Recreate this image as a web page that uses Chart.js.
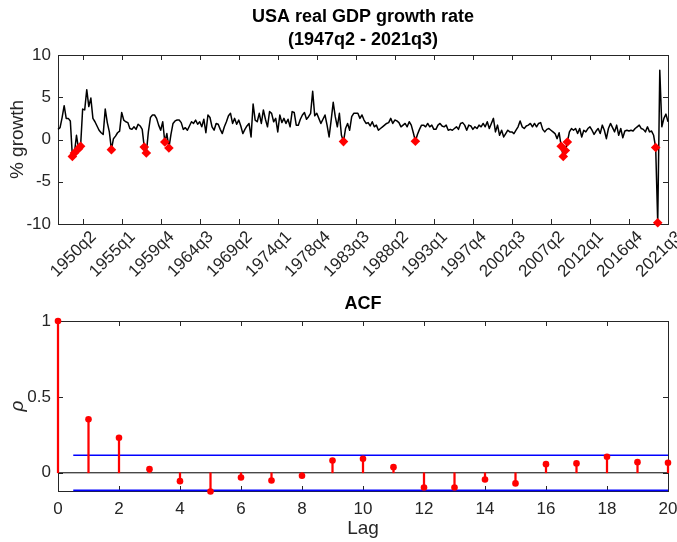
<!DOCTYPE html>
<html>
<head>
<meta charset="utf-8">
<script src="https://cdn.jsdelivr.net/npm/chart.js@4.4.0/dist/chart.umd.min.js"></script>
<style>
  html, body { margin: 0; padding: 0; background: #fff; }
  #wrap { position: relative; width: 677px; height: 542px; }
  canvas { position: absolute; left: 0; }
  #gdp { top: 0; }
  #acf { top: 290px; }
</style>
</head>
<body>
<div id="wrap">
  <canvas id="gdp" width="677" height="290"></canvas>
  <canvas id="acf" width="677" height="252"></canvas>
</div>
<script>
// quarterly growth, 1947q2 .. 2021q3
const growth = [
  1.2, 1.4, 2.6, 4.0, 2.5, 2.5, 2.2, -2.0, -1.6, 0.5,
  -1.1, -0.8, 3.6, 3.5, 5.9, 3.9, 4.9, 2.5, 2.1, 1.6,
  1.1, 0.8, 0.6, 3.6, 2.0, 0.9, -1.2, 0.1, 0.4, 0.8,
  1.0, 3.2, 2.3, 2.1, 2.0, 1.3, 1.2, 1.5, 1.2, 1.8,
  1.6, 1.2, -0.9, -1.6, 0.9, 2.6, 2.9, 2.9, 2.5, 1.7,
  1.1, 2.1, -0.3, 0.7, -1.0, 0.6, 1.9, 2.2, 2.3, 2.3,
  2.0, 1.2, 1.4, 1.1, 1.6, 2.1, 1.9, 2.3, 1.8, 2.1,
  1.5, 2.4, 0.8, 2.9, 2.6, 1.5, 1.1, 1.9, 1.8, 1.2,
  0.7, 1.5, 2.1, 2.8, 3.1, 1.9, 2.5, 1.8, 2.3, 1.6,
  0.7, 1.2, 1.6, 1.9, 0.3, 4.2, 2.3, 2.1, 3.1, 1.9,
  3.5, 2.4, 1.5, 3.3, 3.1, 2.1, 2.5, 0.9, 2.9, 2.0,
  2.5, 1.9, 2.4, 1.5, 3.3, 3.2, 1.7, 1.7, 2.4, 2.9,
  3.2, 2.4, 2.7, 3.1, 5.7, 2.8, 3.1, 2.5, 1.9, 2.4,
  2.9, 1.7, 0.3, 2.3, 4.4, 2.7, 1.5, 3.1, 0.5, -0.25,
  1.3, 1.9, 1.1, 2.7, 3.1, 3.1, 3.1, 2.5, 2.9, 2.3,
  1.9, 2.0, 1.6, 2.1, 1.5, 1.7, 1.1, 1.3, 1.5, 1.7,
  1.9, 2.0, 2.5, 1.9, 2.3, 2.2, 2.0, 1.5, 1.7, 1.9,
  1.5, 2.1, 1.7, 0.8, -0.2, 0.6, 1.2, 1.7, 1.7, 1.5,
  1.9, 1.5, 1.7, 1.2, 1.2, 1.7, 1.9, 1.6, 1.5, 1.7,
  1.1, 1.2, 1.1, 1.3, 1.5, 1.2, 1.9, 2.0, 1.7, 1.1,
  1.7, 1.6, 1.2, 1.5, 1.3, 1.7, 1.5, 1.9, 1.5, 2.1,
  1.3, 1.9, 2.5, 0.9, 1.7, 0.5, 1.1, 0.3, 0.7, 1.1,
  0.9, 0.9, 0.7, 1.1, 1.5, 2.2, 1.5, 1.3, 1.6, 1.7,
  1.9, 1.5, 1.9, 1.5, 1.9, 2.0, 1.2, 0.9, 1.2, 1.3,
  1.1, 0.9, 0.7, 0.1, 0.8, -0.8, -2.0, -1.3, -0.3, 0.9,
  1.3, 1.1, 1.3, 0.7, 1.3, 0.3, 1.1, 0.9, 1.3, 1.5,
  1.1, 0.6, 1.0, 1.3, 0.7, 1.7, 1.1, 0.1, 1.3, 1.9,
  1.4, 0.9, 1.7, 0.5, 1.3, 0.2, 1.0, 1.1, 1.0, 1.1,
  1.0, 1.3, 1.5, 1.7, 1.3, 1.2, 0.9, 1.5, 0.9, 1.0,
  0.5, -0.95, -9.85, 8.2, 1.5, 2.5, 3.0, 2.1
];
const firstQuarter = '1947q2';
const quarterTickLabels = ['1950q2', '1955q1', '1959q4', '1964q3', '1969q2', '1974q1', '1978q4', '1983q3',
  '1988q2', '1993q1', '1997q4', '2002q3', '2007q2', '2012q1', '2016q4', '2021q3'];
const growthTicks = [-10, -5, 0, 5, 10];

const lags = [0, 1, 2, 3, 4, 5, 6, 7, 8, 9, 10, 11, 12, 13, 14, 15, 16, 17, 18, 19, 20];
const acf = [1, 0.352, 0.231, 0.024, -0.055, -0.123, -0.031, -0.051, -0.020, 0.081, 0.092,
  0.037, -0.097, -0.097, -0.044, -0.070, 0.057, 0.062, 0.106, 0.070, 0.066];
const confBand = [-0.116, 0.116];
const bandLags = [0.5, 20];
const acfTicks = [0, 0.5, 1];

// quarter label -> running index (1947q1 = 0)
function qIndex(label) {
  const yr = parseInt(label.slice(0, 4), 10);
  const q = parseInt(label.slice(5), 10);
  return (yr - 1947) * 4 + q - 1;
}
const startIdx = qIndex(firstQuarter);
const tickLabelAt = {};
quarterTickLabels.forEach(l => { tickLabelAt[qIndex(l)] = l; });

const fontFamily = '"Liberation Sans", Arial, Helvetica, sans-serif';
const tickFont = { family: fontFamily, size: 17 };
const labelFont = { family: fontFamily, size: 19 };
const axisColor = '#262626';

// keep the plot box where the figure has it
function fixSize(prop, size) {
  return s => {
    s[prop] = size;
    s.paddingLeft = 0; s.paddingRight = 0; s.paddingTop = 0; s.paddingBottom = 0;
  };
}

// matlab-like box with inward ticks, plus centred titles
const boxPlugin = {
  id: 'boxPlugin',
  beforeDatasetsDraw(chart) {
    const { ctx, chartArea: a, scales: { x, y } } = chart;
    const len = 5;
    ctx.save();
    ctx.strokeStyle = axisColor;
    ctx.lineWidth = 1;
    ctx.beginPath();
    x.ticks.forEach(t => {
      const px = Math.round(x.getPixelForValue(t.value)) + 0.5;
      ctx.moveTo(px, a.bottom); ctx.lineTo(px, a.bottom - len);
      ctx.moveTo(px, a.top); ctx.lineTo(px, a.top + len);
    });
    y.ticks.forEach(t => {
      const py = Math.round(y.getPixelForValue(t.value)) + 0.5;
      ctx.moveTo(a.left, py); ctx.lineTo(a.left + len, py);
      ctx.moveTo(a.right, py); ctx.lineTo(a.right - len, py);
    });
    ctx.stroke();
    ctx.strokeRect(Math.round(a.left) + 0.5, Math.round(a.top) + 0.5,
      Math.round(a.right - a.left), Math.round(a.bottom - a.top));
    ctx.restore();
  },
  afterDraw(chart, args, opts) {
    const { ctx, chartArea: a } = chart;
    ctx.save();
    ctx.fillStyle = '#000';
    ctx.font = 'bold 18px ' + fontFamily;
    ctx.textAlign = 'center';
    ctx.textBaseline = 'middle';
    opts.lines.forEach((line, i) => ctx.fillText(line, (a.left + a.right) / 2, opts.ys[i]));
    ctx.restore();
  }
};

const linePts = growth.map((v, i) => ({ x: startIdx + i, y: v }));
const negPts = linePts.filter(p => p.y < 0);

new Chart(document.getElementById('gdp'), {
  type: 'line',
  data: {
    datasets: [
      { data: negPts, showLine: false, pointStyle: 'rectRot', pointRadius: 4.8,
        pointBackgroundColor: '#ff0000', pointBorderWidth: 0, clip: false },
      { data: linePts, borderColor: '#000', borderWidth: 1.5, pointRadius: 0, tension: 0,
        borderJoinStyle: 'round', clip: false }
    ]
  },
  options: {
    responsive: false, animation: false, devicePixelRatio: 1,
    layout: { padding: { top: 55, right: 9, left: 0, bottom: 0 } },
    plugins: {
      legend: { display: false }, tooltip: { enabled: false },
      boxPlugin: { lines: ['USA real GDP growth rate', '(1947q2 - 2021q3)'], ys: [17, 40] }
    },
    scales: {
      x: {
        type: 'linear', min: startIdx, max: startIdx + growth.length - 1,
        grid: { display: false, drawTicks: false }, border: { display: false },
        afterBuildTicks: s => { s.ticks = quarterTickLabels.map(l => ({ value: qIndex(l) })); },
        afterFit: fixSize('height', 66),
        ticks: { autoSkip: false, minRotation: 45, maxRotation: 45, padding: 3, labelOffset: 11,
          color: axisColor, font: tickFont, callback: v => tickLabelAt[v] }
      },
      y: {
        min: -10, max: 10,
        grid: { display: false, drawTicks: false }, border: { display: false },
        afterBuildTicks: s => { s.ticks = growthTicks.map(v => ({ value: v })); },
        afterFit: fixSize('width', 58),
        ticks: { padding: 7, color: axisColor, font: tickFont, callback: v => String(v) },
        title: { display: true, text: '% growth', color: axisColor, font: labelFont, padding: { top: 6 } }
      }
    }
  },
  plugins: [boxPlugin]
});

const acfPts = lags.map((l, i) => ({ x: l, y: acf[i] }));

new Chart(document.getElementById('acf'), {
  type: 'bar',
  data: {
    datasets: [
      { type: 'scatter', data: acfPts, pointRadius: 3.3, backgroundColor: '#ff0000',
        borderWidth: 0, clip: false },
      { type: 'bar', data: acfPts, backgroundColor: '#ff0000', barThickness: 1.6,
        grouped: false, clip: false },
      { type: 'line', data: bandLags.map(l => ({ x: l, y: confBand[1] })), borderColor: '#0000ff',
        borderWidth: 1.6, pointRadius: 0 },
      { type: 'line', data: bandLags.map(l => ({ x: l, y: confBand[0] })), borderColor: '#0000ff',
        borderWidth: 1.6, pointRadius: 0, clip: false },
      { type: 'line', data: [lags[0], lags[lags.length - 1]].map(l => ({ x: l, y: 0 })),
        borderColor: '#000', borderWidth: 1, pointRadius: 0 }
    ]
  },
  options: {
    responsive: false, animation: false, devicePixelRatio: 1,
    layout: { padding: { top: 31, right: 9, left: 0, bottom: 0 } },
    plugins: {
      legend: { display: false }, tooltip: { enabled: false },
      boxPlugin: { lines: ['ACF'], ys: [14] }
    },
    scales: {
      x: {
        type: 'linear', min: lags[0], max: lags[lags.length - 1], offset: false,
        grid: { display: false, drawTicks: false, offset: false }, border: { display: false },
        ticks: { stepSize: 2, padding: 8, color: axisColor, font: tickFont },
        afterFit: fixSize('height', 51),
        title: { display: true, text: 'Lag', color: axisColor, font: labelFont, padding: { bottom: 2 } }
      },
      y: {
        min: -0.12, max: 1,
        grid: { display: false, drawTicks: false }, border: { display: false },
        afterBuildTicks: s => { s.ticks = acfTicks.map(v => ({ value: v })); },
        afterFit: fixSize('width', 58),
        ticks: { padding: 7, color: axisColor, font: tickFont, callback: v => String(v) },
        title: { display: true, text: 'ρ', color: axisColor,
          font: { family: fontFamily, size: 19, style: 'italic' }, padding: { top: 6 } }
      }
    }
  },
  plugins: [boxPlugin]
});
</script>
</body>
</html>
